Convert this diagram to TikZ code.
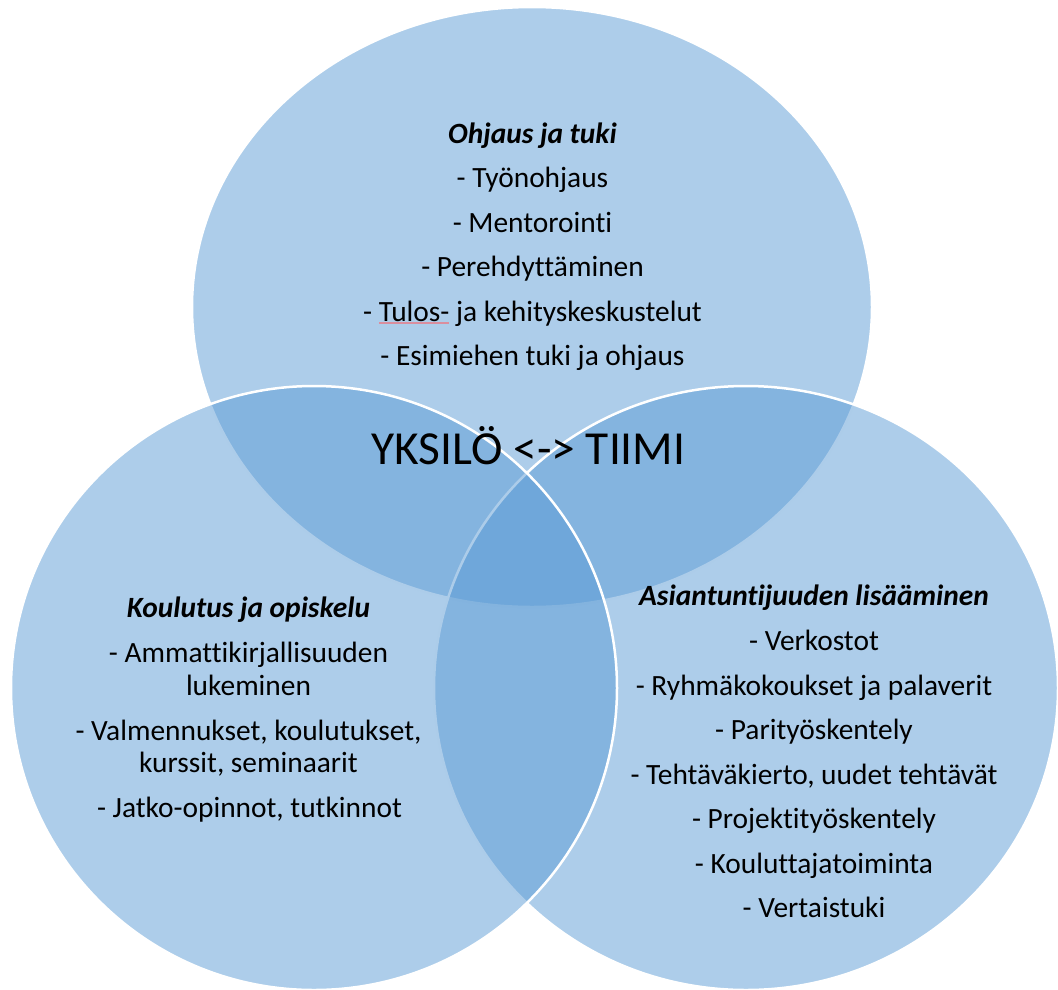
\documentclass[tikz,border=0pt]{standalone}
\usepackage{fontspec}
\setmainfont{Carlito}[Ligatures={NoCommon}]
\definecolor{vennblue}{HTML}{5B9BD5}
\definecolor{spell}{HTML}{DA8E9E}
\newcommand\spellmark[1]{\setbox0\hbox{#1}\rlap{\color{spell}\rule[-2.5pt]{\wd0}{1.1pt}}\box0\relax}
\tikzset{
  venn/.style={fill=vennblue, fill opacity=0.5, draw=white, draw opacity=1, line width=2.5pt},
  itemtext/.style={font=\fontsize{29.4}{32}\selectfont, anchor=base, inner sep=0pt, text=black},
  headtext/.style={itemtext, font=\fontsize{29.4}{32}\selectfont\bfseries\itshape},
  centertext/.style={font=\fontsize{47.4}{50}\selectfont, anchor=base, inner sep=0pt, text=black}
}
\begin{document}
\begin{tikzpicture}[x=1pt,y=-1pt]
\useasboundingbox (0,0) rectangle (1058,989);
% ellipses: top, right, left
\path[venn] (532,307) ellipse [x radius=340pt, y radius=300pt];
\path[venn] (746,688) ellipse [x radius=312pt, y radius=302pt];
\path[venn] (314,688) ellipse [x radius=303pt, y radius=302pt];
% top group
\node[headtext] (t0) at (532.5,143) {Ohjaus ja tuki};
\node[itemtext] (t1) at (532.5,187.5) {- Työnohjaus};
\node[itemtext] (t2) at (532.5,232) {- Mentorointi};
\node[itemtext] (t3) at (532.5,276.5) {- Perehdyttäminen};
\node[itemtext] (t4) at (532.5,321) {- \spellmark{Tulos-} ja kehityskeskustelut};
\node[itemtext] (t5) at (532.5,365.5) {- Esimiehen tuki ja ohjaus};
% center
\node[centertext] (c) at (528.5,464) {YKSILÖ <-> TIIMI};
% left group
\node[headtext] (l0) at (248.5,617) {Koulutus ja opiskelu};
\node[itemtext] (l1) at (248.5,662) {- Ammattikirjallisuuden};
\node[itemtext] (l2) at (248.5,695) {lukeminen};
\node[itemtext] (l3) at (248.5,740) {- Valmennukset, koulutukset,};
\node[itemtext] (l4) at (248.5,772) {kurssit, seminaarit};
\node[itemtext] (l5) at (249.5,817) {- Jatko-opinnot, tutkinnot};
% right group
\node[headtext] (r0) at (814,605) {Asiantuntijuuden lisääminen};
\node[itemtext] (r1) at (814,650.5) {- Verkostot};
\node[itemtext] (r2) at (814,695) {- Ryhmäkokoukset ja palaverit};
\node[itemtext] (r3) at (814,739.5) {- Parityöskentely};
\node[itemtext] (r4) at (814,784) {- Tehtäväkierto, uudet tehtävät};
\node[itemtext] (r5) at (814,828.5) {- Projektityöskentely};
\node[itemtext] (r6) at (814,873) {- Kouluttajatoiminta};
\node[itemtext] (r7) at (814,917) {- Vertaistuki};
\end{tikzpicture}
\end{document}
